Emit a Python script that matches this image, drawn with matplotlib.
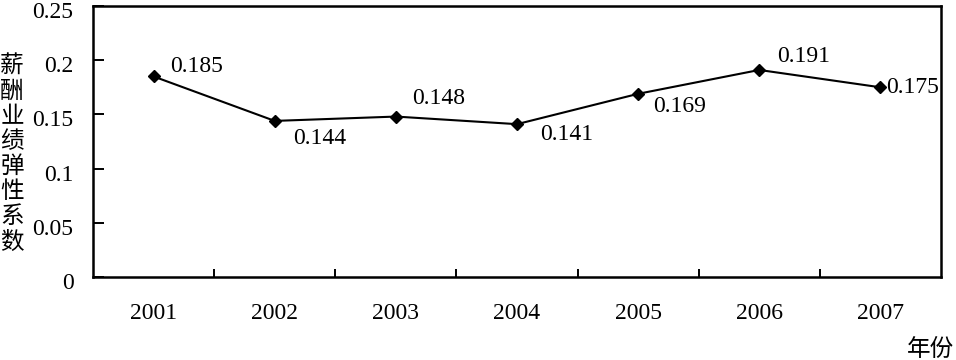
import matplotlib
matplotlib.use("Agg")
import matplotlib.pyplot as plt
import matplotlib.transforms as mtransforms
import numpy as np

years = ["2001", "2002", "2003", "2004", "2005", "2006", "2007"]
values = [0.185, 0.144, 0.148, 0.141, 0.169, 0.191, 0.175]
label_offsets = [(17, 10), (18, -18), (16, 18), (23, -10), (15, -13), (18, 13), (6, 0)]
y_ticks = [0, 0.05, 0.1, 0.15, 0.2, 0.25]
y_tick_labels = ["0", "0.05", "0.1", "0.15", "0.2", "0.25"]
y_title = "薪酬业绩弹性系数"
x_title = "年份"

serif = "Liberation Serif"
cjk = "Noto Sans CJK SC"
fs = 17

fig = plt.figure(figsize=(9.56, 3.6), dpi=100)
ax = fig.add_axes([93/956, 1 - 277/360, (941-93)/956, (277-6)/360])

x = np.arange(len(years)) + 0.5
ax.plot(x, values, color="black", lw=1.5, marker="D", ms=6.5, mfc="black", mec="black")

for xi, v, (dx, dy) in zip(x, values, label_offsets):
    ax.annotate(f"{v:.3f}", (xi, v), xytext=(dx*0.72, dy*0.72), textcoords="offset points",
                ha="left", va="center", fontsize=fs, family=serif)

ax.set_xlim(0, len(years))
ax.set_ylim(0, 0.25)
ax.set_yticks(y_ticks)
ax.set_yticklabels(y_tick_labels, fontsize=fs, family=serif)
ax.set_xticks(x)
ax.set_xticklabels(years, fontsize=fs, family=serif)
ax.set_xticks(np.arange(1, len(years)), minor=True)
ax.tick_params(axis="x", which="major", length=0, pad=19)
ax.tick_params(axis="x", which="minor", direction="in", length=6, width=1.4)
ax.tick_params(axis="y", direction="in", length=8, width=1.4, pad=14)
shift = mtransforms.ScaledTranslation(0, -4/100, fig.dpi_scale_trans)
for lab in ax.get_yticklabels():
    lab.set_transform(lab.get_transform() + shift)
for s in ax.spines.values():
    s.set_linewidth(1.8)

fig.text(12/956, 1 - 154/360, "\n".join(y_title), ha="center", va="center",
         fontsize=17, family=cjk, linespacing=1.12)
fig.text(931/956, 1 - 349/360, x_title, ha="center", va="center", fontsize=17, family=cjk)

fig.savefig("out.png", dpi=100, facecolor="white")
